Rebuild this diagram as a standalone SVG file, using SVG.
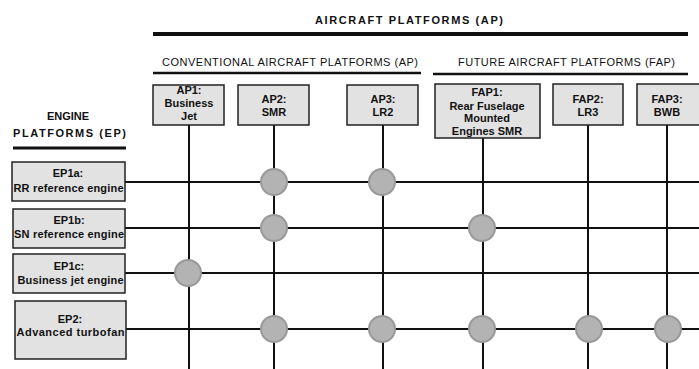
<svg xmlns="http://www.w3.org/2000/svg" width="699" height="369" viewBox="0 0 699 369">
<style>
.box{fill:#e2e2e2;stroke:#222;stroke-width:1.5}
.t{font-family:"Liberation Sans",Arial,sans-serif;font-size:11px;font-weight:bold;fill:#111;text-anchor:middle}
.h{font-family:"Liberation Sans",Arial,sans-serif;font-size:11px;fill:#111}
.ln{stroke:#111;stroke-width:2;fill:none}
.dot{fill:#b3b3b3;stroke:#999;stroke-width:2}
</style>
<rect width="699" height="369" fill="#fff"/>
<g id="headers">
<text class="h" x="315" y="24" font-weight="bold" textLength="188" lengthAdjust="spacing">AIRCRAFT PLATFORMS (AP)</text>
<line x1="153" y1="34" x2="688" y2="34" stroke="#111" stroke-width="4"/>
<text class="h" x="162" y="66" textLength="256" lengthAdjust="spacing">CONVENTIONAL AIRCRAFT PLATFORMS (AP)</text>
<line x1="153" y1="73" x2="421" y2="73" stroke="#111" stroke-width="2.5"/>
<text class="h" x="458" y="66" textLength="217" lengthAdjust="spacing">FUTURE AIRCRAFT PLATFORMS (FAP)</text>
<line x1="433" y1="74" x2="688" y2="74" stroke="#111" stroke-width="2.5"/>
<text class="t" x="68" y="120">ENGINE</text>
<text class="h" x="13" y="137" font-weight="bold" textLength="113" lengthAdjust="spacing">PLATFORMS (EP)</text>
<line x1="13" y1="148" x2="126" y2="148" stroke="#111" stroke-width="3"/>
</g>
<g id="connectors">
<line class="ln" x1="189" y1="125" x2="189" y2="369"/>
<line class="ln" x1="274" y1="125" x2="274" y2="369"/>
<line class="ln" x1="383" y1="125" x2="383" y2="369"/>
<line class="ln" x1="483" y1="138" x2="483" y2="369"/>
<line class="ln" x1="588" y1="125" x2="588" y2="369"/>
<line class="ln" x1="667" y1="125" x2="667" y2="369"/>
<line class="ln" x1="125" y1="182" x2="699" y2="182"/>
<line class="ln" x1="125" y1="228" x2="699" y2="228"/>
<line class="ln" x1="125" y1="273" x2="699" y2="273"/>
<line class="ln" x1="126" y1="329" x2="699" y2="329"/>
</g>
<g id="AP1"><rect class="box" x="153" y="85" width="71" height="40"/>
<text class="t" x="189" y="94">AP1:</text><text class="t" x="189" y="107">Business</text><text class="t" x="189" y="120">Jet</text></g>
<g id="AP2"><rect class="box" x="238" y="85" width="71" height="40"/>
<text class="t" x="274" y="103">AP2:</text><text class="t" x="274" y="116">SMR</text></g>
<g id="AP3"><rect class="box" x="347" y="85" width="71" height="40"/>
<text class="t" x="383" y="103">AP3:</text><text class="t" x="383" y="116">LR2</text></g>
<g id="FAP1"><rect class="box" x="435" y="84" width="105" height="54"/>
<text class="t" x="487" y="96">FAP1:</text><text class="t" x="487" y="110">Rear Fuselage</text><text class="t" x="487" y="122">Mounted</text><text class="t" x="487" y="135">Engines SMR</text></g>
<g id="FAP2"><rect class="box" x="553" y="84" width="70" height="41"/>
<text class="t" x="588" y="103">FAP2:</text><text class="t" x="588" y="116">LR3</text></g>
<g id="FAP3"><rect class="box" x="637" y="84" width="70" height="41"/>
<text class="t" x="667" y="103">FAP3:</text><text class="t" x="667" y="116">BWB</text></g>
<g id="EP1a"><rect class="box" x="12" y="162" width="113" height="39"/>
<text class="t" x="68" y="177">EP1a:</text><text class="t" x="68.5" y="192" textLength="110" lengthAdjust="spacing">RR reference engine</text></g>
<g id="EP1b"><rect class="box" x="13" y="209" width="112" height="39"/>
<text class="t" x="69" y="224">EP1b:</text><text class="t" x="69" y="238" textLength="110" lengthAdjust="spacing">SN reference engine</text></g>
<g id="EP1c"><rect class="box" x="13" y="254" width="112" height="39"/>
<text class="t" x="69" y="270">EP1c:</text><text class="t" x="70.5" y="284" textLength="106" lengthAdjust="spacing">Business jet engine</text></g>
<g id="EP2"><rect class="box" x="15" y="301" width="111" height="58"/>
<text class="t" x="70" y="323">EP2:</text><text class="t" x="70.5" y="336" textLength="108" lengthAdjust="spacing">Advanced turbofan</text></g>
<g id="links">
<circle class="dot" cx="274" cy="182" r="13"/>
<circle class="dot" cx="382" cy="182" r="13"/>
<circle class="dot" cx="274" cy="228" r="13"/>
<circle class="dot" cx="482" cy="228" r="13"/>
<circle class="dot" cx="188" cy="273" r="13"/>
<circle class="dot" cx="274" cy="329" r="13"/>
<circle class="dot" cx="382" cy="329" r="13"/>
<circle class="dot" cx="482" cy="329" r="13"/>
<circle class="dot" cx="589" cy="329" r="13"/>
<circle class="dot" cx="668" cy="329" r="13"/>
</g>
</svg>
